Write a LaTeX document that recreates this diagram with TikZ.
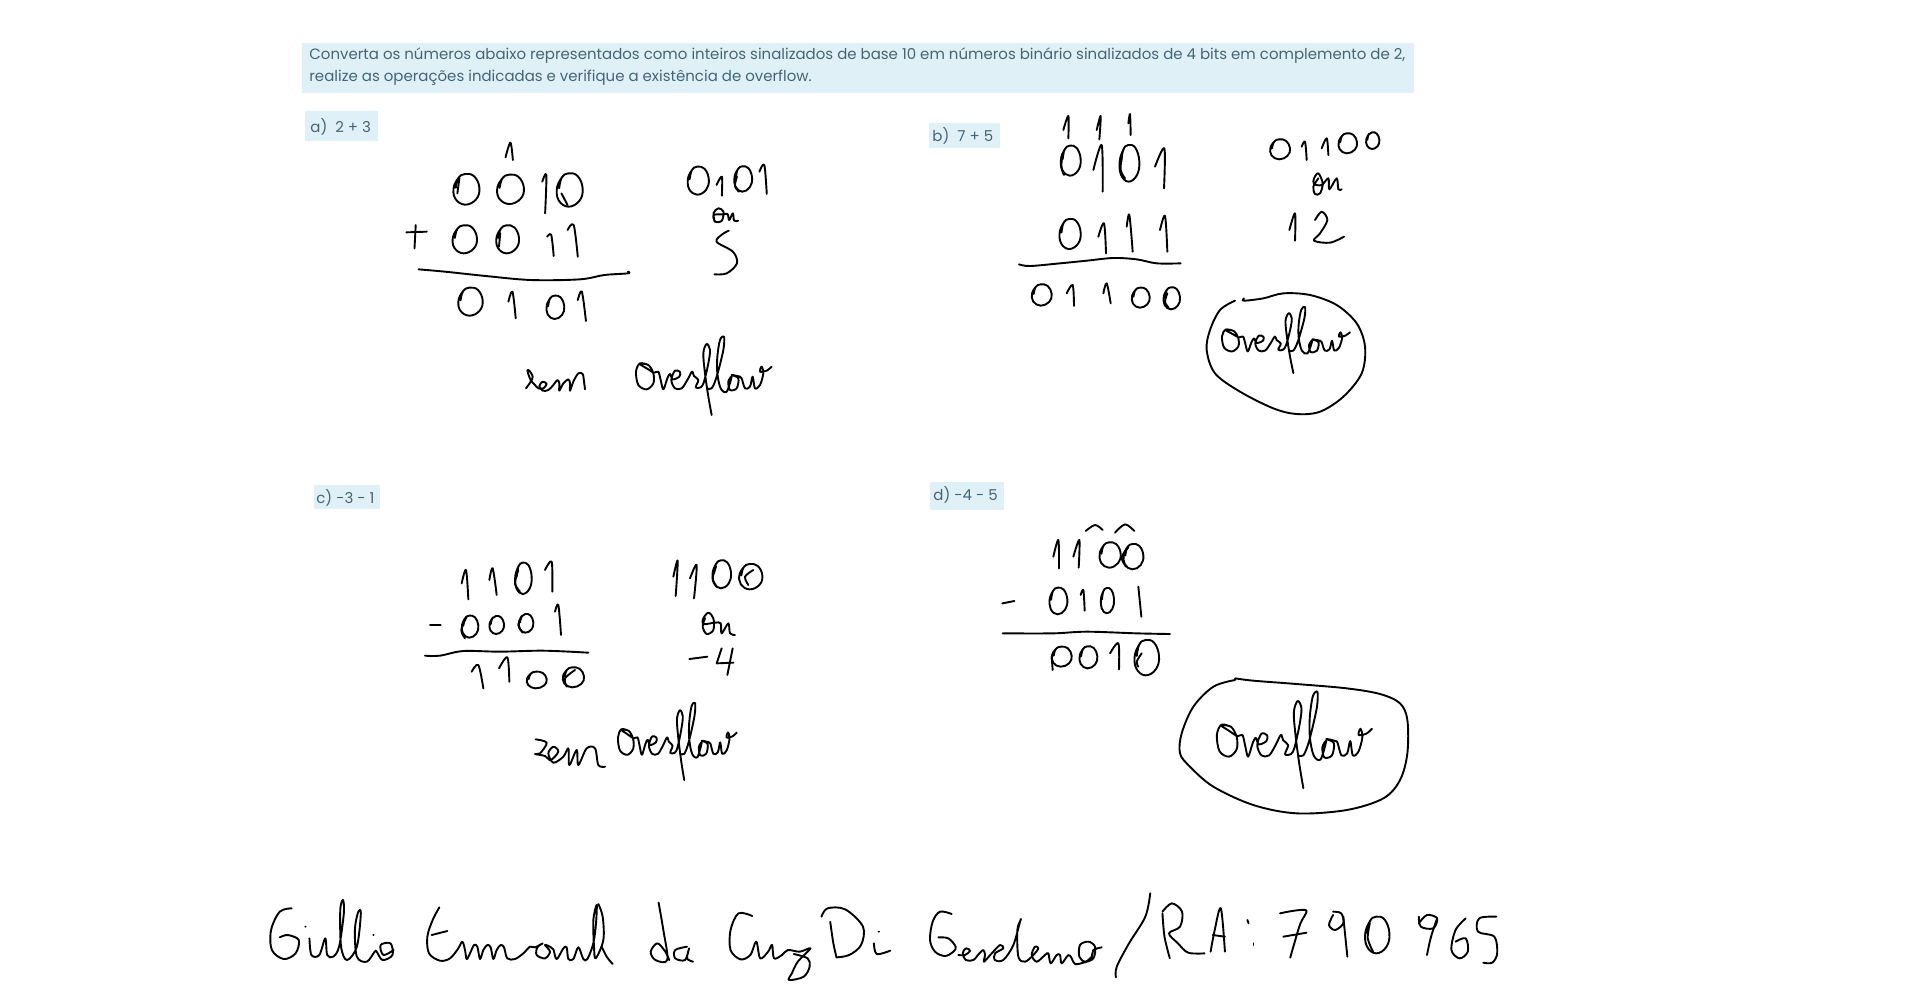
\documentclass[tikz,border=0pt]{standalone}
\usepackage{fontspec}
\setmainfont{Poppins}
\definecolor{boxblue}{HTML}{DFF1F7}
\definecolor{slate}{HTML}{456576}
\tikzset{
  ink/.style={draw=black,line width=0.95pt,line cap=round,line join=round},
  band/.style={fill=boxblue,draw=none},
  printed/.style={anchor=base west,inner sep=0pt,text=slate,font=\fontsize{7.49}{10}\selectfont},
}
\newcommand\st[1]{\draw[ink] plot[smooth,tension=0.55] coordinates {#1};}
\newcommand\sg[1]{\draw[ink] plot coordinates {#1};}
\newcommand\zr[4]{\begin{scope}[shift={(#1,#2)},xscale=#3,yscale=#4]\draw[ink] plot[smooth,tension=.7] coordinates{(-.5,-.85)(-.95,-.2)(-.85,.6)(-.1,1)(.75,.65)(1,-.1)(.6,-.85)(-.1,-1)(-.6,-.75)(-.8,-.1)};\end{scope}}
\newcommand\ofl[4]{\begin{scope}[shift={(#1,#2)},xscale=#3,yscale=#4]
\st{(55,105)(30,100)(18,125)(25,165)(50,178)(70,160)(70,130)(55,105)(30,102)(50,115)(72,128)(85,125)(92,150)(100,178)(112,145)(120,132)(128,148)(148,140)(150,126)(135,122)(124,150)(135,175)(155,175)(172,150)(186,125)(192,138)(205,150)(197,172)(212,172)(222,155)(235,100)(240,60)(230,42)(220,70)(225,130)(235,200)(245,255)}
\st{(232,175)(245,175)(260,140)(280,60)(282,20)(270,30)(262,80)(262,130)(272,175)(290,185)(305,140)(295,155)(300,180)(320,175)(325,145)(305,135)(330,140)(335,145)(345,175)(360,170)(368,140)(375,175)(390,165)(400,130)(395,110)(390,125)(410,122)(425,110)}
\end{scope}}
\begin{document}
\begin{tikzpicture}[x=0.5pt,y=-0.5pt]
\useasboundingbox (0,0) rectangle (1920,997);
\fill[white] (0,0) rectangle (1920,997);
% printed bands
\fill[band] (302,43) rectangle (1414,93);
\fill[band] (305,111) rectangle (378,141);
\fill[band] (929,123) rectangle (1000,148);
\fill[band] (314,485) rectangle (380,509);
\fill[band] (930,482) rectangle (1004,510);
\node[printed] (t1) at (309,59) {Converta os números abaixo representados como inteiros sinalizados de base 10 em números binário sinalizados de 4 bits em complemento de 2,};
\node[printed] (t2) at (309,81) {realize as operações indicadas e verifique a existência de overflow.};
\node[printed] (la) at (310,132) {a)\ \ 2 + 3};
\node[printed] (lb) at (932,141) {b)\ \ 7 + 5};
\node[printed] (lc) at (316,503) {c)\ -3 - 1};
\node[printed] (ld) at (933,500) {d)\ -4 - 5};

% a)
\begin{scope}[shift={(290,30)},x=0.20408pt,y=-0.16667pt]
\st{(528,382)(540,338)(546,390)}
\zr{432}{478}{32}{46}\st{(415,445)(410,490)}\zr{540}{478}{33}{44}
\st{(618,455)(628,435)(625,550)}
\zr{685}{480}{32}{50}\st{(665,490)(680,525)}
\sg{(285,607)(335,605)}\sg{(308,585)(305,655)}
\zr{428}{628}{30}{42}\zr{533}{628}{28}{42}\st{(515,610)(512,650)}
\st{(630,620)(640,615)(646,678)}
\st{(680,600)(695,585)(705,680)}
\st{(315,718)(380,725)(480,738)(590,750)(710,748)(770,735)(828,730)(828,725)}
\zr{442}{815}{30}{42}
\st{(535,815)(545,785)(553,865)}
\zr{650}{832}{22}{35}
\st{(705,810)(715,785)(725,873)}
\zr{1000}{452}{26}{42}
\st{(1045,465)(1058,440)(1058,497)}
\zr{1110}{447}{22}{38}\st{(1095,440)(1090,468)(1100,485)}
\st{(1150,425)(1162,405)(1168,492)}
\st{(1040,575)(1038,548)(1050,535)(1062,545)(1058,572)(1042,575)(1038,555)(1062,553)(1072,552)(1076,570)(1085,550)(1088,572)(1098,572)}
\st{(1075,602)(1060,612)(1045,635)(1085,665)(1095,700)(1070,730)(1040,733)}
\end{scope}
\begin{scope}[shift={(520,360)},x=0.16667pt,y=-0.16667pt]
\st{(18,85)(32,65)(38,50)(28,32)(22,32)(32,60)(45,75)(55,85)(70,85)(80,72)(68,65)(58,78)(68,92)(85,90)(100,75)(112,60)(118,70)(118,92)(130,70)(145,58)(150,70)(150,92)(160,65)(175,40)(188,42)(192,65)(195,88)}
\end{scope}
\ofl{630}{330}{.3333}{.3333}

% b)
\begin{scope}[shift={(920,30)},x=0.16667pt,y=-0.16667pt]
\st{(430,300)(445,258)(445,325)}
\st{(530,300)(542,258)(538,328)}
\st{(625,280)(630,252)(632,315)}
\zr{452}{392}{30}{45}\st{(428,370)(424,410)(432,435)}
\st{(520,420)(545,345)(548,485)}
\zr{628}{400}{30}{55}\st{(605,380)(602,420)(615,445)}
\st{(705,410)(733,355)(732,475)}
\zr{450}{612}{32}{45}
\st{(535,620)(552,580)(558,670)}
\st{(620,590)(628,555)(638,665)}
\st{(720,600)(735,558)(742,665)}
\st{(297,703)(330,708)(420,700)(500,692)(580,684)(650,688)(710,700)(782,700)}
\zr{365}{795}{30}{32}
\st{(440,790)(458,765)(462,828)}
\st{(550,790)(560,760)(572,820)}
\zr{662}{803}{27}{30}
\zr{755}{805}{25}{33}\st{(742,790)(735,815)(745,832)}
\zr{1080}{358}{30}{30}
\st{(1145,350)(1155,335)(1160,390)}
\st{(1205,355)(1220,325)(1225,375)}
\zr{1283}{340}{28}{30}
\zr{1358}{332}{20}{25}
\st{(1195,445)(1180,470)(1185,492)(1200,490)(1208,460)(1195,430)(1182,445)(1182,462)(1205,465)(1225,445)(1228,478)(1250,445)(1255,478)(1265,478)}
\st{(1108,600)(1125,550)(1125,632)}
\st{(1185,570)(1205,545)(1222,570)(1200,610)(1182,632)(1230,638)(1272,620)}
\st{(945,812)(900,840)(870,900)(860,960)(885,1030)(960,1085)(1060,1135)(1130,1152)(1200,1145)(1270,1100)(1325,1030)(1335,950)(1310,880)(1250,825)(1170,795)(1090,790)(1030,805)(972,812)(972,805)}
\end{scope}
\ofl{1216.3}{301.4}{.3145}{.281}

% c)
\begin{scope}[shift={(300,470)},x=0.16667pt,y=-0.16667pt]
\st{(485,340)(498,300)(505,388)}
\st{(568,330)(578,295)(590,375)}
\zr{670}{325}{25}{47}\st{(655,300)(645,340)(660,365)}
\st{(735,300)(755,275)(757,365)}
\sg{(390,465)(422,465)}
\zr{510}{470}{25}{33}\st{(500,440)(484,480)(495,505)}\zr{590}{465}{22}{27}\zr{678}{460}{22}{28}\st{(665,440)(655,465)(668,488)}
\st{(765,425)(775,405)(783,495)}
\st{(375,557)(420,557)(490,543)(600,545)(730,542)(865,548)}
\st{(515,605)(535,585)(550,655)}
\st{(597,595)(622,562)(628,635)}
\zr{710}{630}{30}{25}\zr{820}{622}{32}{30}\st{(825,600)(795,625)(800,650)}
\st{(1120,320)(1133,272)(1127,378)}
\st{(1170,325)(1190,285)(1182,385)}
\zr{1265}{313}{28}{42}\st{(1248,290)(1238,325)(1250,350)}\zr{1352}{320}{35}{38}\st{(1360,300)(1335,320)(1345,345)}
\st{(1215,445)(1208,470)(1220,492)(1240,480)(1240,445)(1225,428)(1210,445)(1210,462)(1245,458)(1262,460)(1265,490)(1285,460)(1290,490)(1305,495)}
\sg{(1168,567)(1222,560)}
\sg{(1265,535)(1250,580)(1300,578)}
\sg{(1298,535)(1282,615)}
\st{(707,808)(740,818)(720,850)(705,852)(735,858)(752,870)(775,845)(760,830)(745,850)(760,878)(790,860)(805,835)(808,885)(830,840)(835,885)(860,835)(885,835)(895,885)(915,890)}
\end{scope}
\ofl{612.7}{696.4}{.292}{.328}

% d)
\begin{scope}[shift={(920,470)},x=0.16667pt,y=-0.16667pt]
\st{(497,183)(525,165)(548,180)}
\st{(585,188)(615,163)(643,183)}
\st{(400,260)(415,210)(417,295)}
\st{(460,260)(478,210)(476,293)}
\zr{570}{255}{32}{38}\zr{640}{260}{30}{38}\st{(625,232)(605,262)(618,290)}
\sg{(247,400)(283,393)}
\zr{415}{393}{27}{40}
\st{(482,375)(490,360)(494,422)}
\zr{562}{392}{20}{38}
\st{(655,350)(660,400)(664,440)}
\st{(248,490)(400,490)(500,485)(650,490)(750,492)}
\zr{425}{560}{30}{30}
\st{(398,600)(395,560)}
\zr{505}{562}{27}{33}
\st{(570,550)(595,520)(597,598)}
\zr{680}{563}{37}{53}
\st{(665,550)(650,575)(655,590)}
\st{(945,625)(1000,632)(1130,642)(1280,655)(1380,672)(1440,700)(1462,750)(1462,850)(1440,930)(1390,985)(1280,1020)(1130,1030)(1000,1005)(880,950)(810,890)(780,850)(785,790)(820,710)(880,650)(945,630)}
\end{scope}
\ofl{1210}{683.8}{.381}{.409}

% signature, left part
\begin{scope}[shift={(260,880)},x=0.19771pt,y=-0.16667pt]
\st{(80,85)(50,95)(28,150)(30,210)(60,237)(90,220)(98,180)(70,165)(50,172)}
\fill (115,140) circle [radius=3];
\st{(125,175)(130,225)(150,225)(165,175)(170,225)(185,230)(200,200)(212,100)(210,60)(203,90)(205,200)(220,240)(245,200)(255,100)(248,97)(240,150)(245,230)(270,245)(290,215)(295,215)(310,240)(335,225)(330,190)(305,195)(312,225)(338,210)}
\fill (287,165) circle [radius=3];
\st{(1008,68)(1020,150)(1030,240)(1000,240)(988,215)(1005,190)(1025,215)(1035,240)}
\st{(1080,200)(1050,210)(1050,235)(1075,240)(1085,205)(1080,235)(1095,245)}
\st{(1245,108)(1210,100)(1190,150)(1190,210)(1215,238)(1240,225)(1255,185)(1265,235)(1285,215)(1295,195)(1300,235)(1320,225)(1335,210)(1365,215)(1392,205)(1360,245)(1345,280)(1338,300)(1375,290)(1390,260)(1385,235)(1350,222)}
\st{(1420,110)(1435,85)(1480,88)(1525,140)(1520,195)(1490,225)(1458,232)}
\st{(1442,125)(1450,190)(1458,232)}
\end{scope}
\begin{scope}[shift={(430,890)},x=0.16667pt,y=-0.16667pt]
\st{(28,52)(8,90)(-8,140)(-3,190)(30,212)(60,205)(85,175)(97,155)(105,180)(110,207)(120,190)(132,165)(142,170)(150,207)(160,180)(172,165)(182,172)(190,207)(200,180)(212,165)(222,172)(232,205)(255,207)(280,190)(300,170)(315,172)(338,160)(322,172)(320,195)(345,205)(360,185)(345,165)(360,170)(370,178)(380,207)(400,175)(410,172)(415,207)(430,207)(445,172)(460,207)(472,207)(490,160)(498,100)(500,45)(490,90)(492,170)(497,205)(520,150)(518,80)(505,42)}
\st{(515,170)(530,200)(548,222)}
\sg{(5,135)(52,123)}
\end{scope}

% signature, right part
\begin{scope}[shift={(920,900)},x=0.16667pt,y=-0.16667pt]
\st{(95,42)(60,35)(38,65)(30,120)(45,155)(75,168)(100,155)(107,140)(85,115)(55,112)}
\st{(115,165)(135,165)(150,152)(138,145)(128,160)(138,180)(160,180)(178,160)(190,150)(195,165)(192,185)(215,160)(240,135)(250,145)(225,160)(225,180)(250,180)(280,135)(300,65)(302,60)(292,90)(295,170)(315,185)(340,165)(355,145)(345,140)(335,165)(350,185)(375,165)(385,160)(392,190)(410,165)(420,165)(425,190)(445,165)(455,175)(465,192)(490,188)(520,175)(525,140)(505,125)(480,135)(478,170)(495,185)(515,170)(520,150)(545,142)}
\end{scope}
\begin{scope}[shift={(880,880)},x=0.20408pt,y=-0.16667pt]
\st{(-15,190)(-8,222)(25,212)}
\fill (-3,155) circle [radius=3];
\st{(662,40)(650,110)(610,190)(580,260)(578,292)}
\st{(692,100)(697,170)(710,235)}
\st{(692,95)(715,70)(740,95)(735,140)(708,160)(730,190)(755,218)(795,220)}
\st{(810,215)(820,150)(835,85)(845,215)}
\sg{(815,165)(845,170)}
\sg{(900,120)(903,130)}
\sg{(915,190)(915,195)}
\st{(980,100)(1015,92)(1045,92)(1030,130)(1015,190)(1005,233)}
\sg{(988,170)(1045,158)}
\st{(1110,105)(1100,135)(1115,150)(1135,130)(1130,100)(1110,95)}
\st{(1135,110)(1140,170)(1145,230)}
\zr{1218}{165}{30}{55}\st{(1200,130)(1195,175)(1208,215)}
\st{(1320,130)(1340,105)(1365,115)(1355,145)(1325,140)(1320,110)}
\st{(1365,115)(1350,170)(1340,225)}
\st{(1435,115)(1410,150)(1400,210)(1420,235)(1440,215)(1435,175)(1410,185)}
\st{(1510,110)(1468,115)(1465,155)(1505,170)(1512,220)(1500,248)(1478,248)}
\end{scope}
\end{tikzpicture}
\end{document}
